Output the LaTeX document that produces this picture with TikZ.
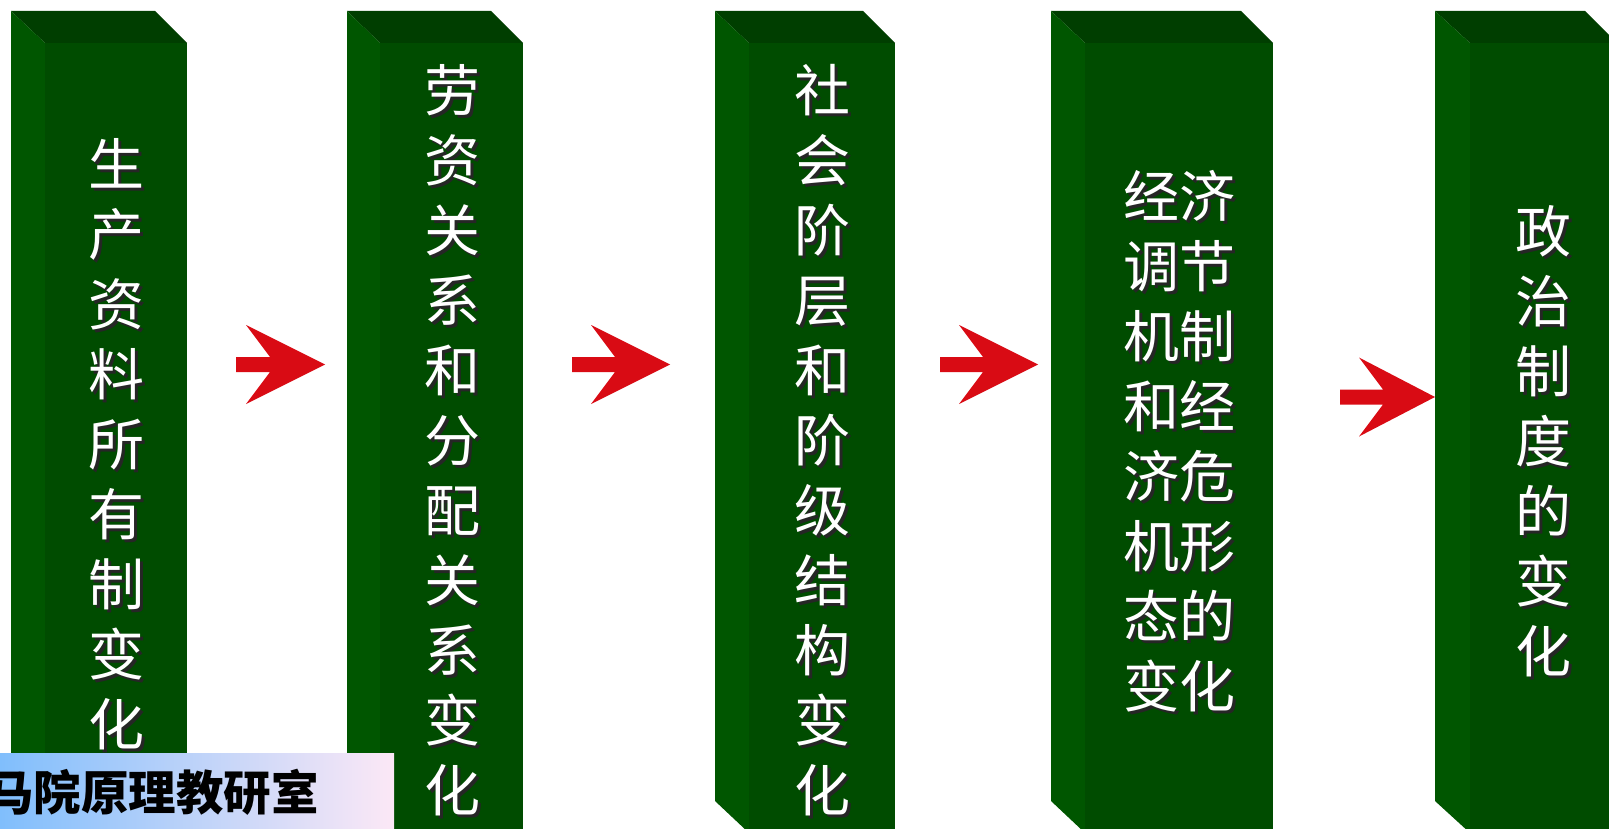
\documentclass[tikz,border=0pt]{standalone}
\usepackage{fontspec}
\newfontfamily\cjk{Noto Sans CJK SC}
\definecolor{gtop}{RGB}{0,62,0}
\definecolor{gleft}{RGB}{0,86,0}
\definecolor{gfront}{RGB}{0,76,0}
\definecolor{arrred}{RGB}{217,11,20}
\definecolor{lblue}{RGB}{128,190,252}
\definecolor{lpink}{RGB}{252,232,246}
\tikzset{
  boxtext/.style={text=white, font=\cjk\fontsize{56}{70}\selectfont, align=center, inner sep=0pt},
  shadowtext/.style={boxtext, text=black!85},
}
\newcommand\gbox[3]{% left, frontleft, right
  \fill[gtop] (#1,11) -- ({#3-32},11) -- (#3,43) -- (#2,43) -- cycle;
  \fill[gleft] (#1,11) -- (#2,43) -- (#2,833) -- (#1,801) -- cycle;
  \fill[gfront] (#2,43) rectangle (#3,833);
}
\newcommand\redarrow[5]{% shaftleft, back, notch, tip, centre
  \fill[arrred] (#1,{#5-7.5}) -- (#3,{#5-7.5}) -- (#2,{#5-39.5}) -- (#4,#5)
    -- (#2,{#5+39.5}) -- (#3,{#5+7.5}) -- (#1,{#5+7.5}) -- cycle;
}
\newcommand\btext[4]{%
  \node[shadowtext] at ({#2+3},{#3+3}) {#4};
  \node[boxtext] (#1) at (#2,#3) {#4};
}
\begin{document}
\begin{tikzpicture}[x=1pt,y=-1pt]
\useasboundingbox (0,0) rectangle (1609,829);
\clip (0,0) rectangle (1609,829);
\fill[white] (0,0) rectangle (1609,829);
% boxes
\gbox{11}{45}{187}
\gbox{347}{380}{523}
\gbox{715}{749}{895}
\gbox{1051}{1085}{1273}
\gbox{1435}{1470}{1617}
% arrows
\redarrow{236}{246}{270}{325}{364.5}
\redarrow{572}{591}{615}{670}{364.5}
\redarrow{940}{959}{983}{1038}{364.5}
\redarrow{1340}{1359}{1383}{1435}{397}
% texts
\btext{t1}{116}{444}{生\\产\\资\\料\\所\\有\\制\\变\\化}
\btext{t2}{452}{440}{劳\\资\\关\\系\\和\\分\\配\\关\\系\\变\\化}
\btext{t3}{822}{440}{社\\会\\阶\\层\\和\\阶\\级\\结\\构\\变\\化}
\btext{t4}{1179}{441}{经济\\调节\\机制\\和经\\济危\\机形\\态的\\变化}
\btext{t5}{1543}{441}{政\\治\\制\\度\\的\\变\\化}
% label
\shade[left color=lblue, right color=lpink] (0,753) rectangle (394,829);
\node[anchor=west, inner sep=0pt, font=\cjk\bfseries\fontsize{47.5}{50}\selectfont] (label) at (-14,792) {马院原理教研室};
\end{tikzpicture}
\end{document}
